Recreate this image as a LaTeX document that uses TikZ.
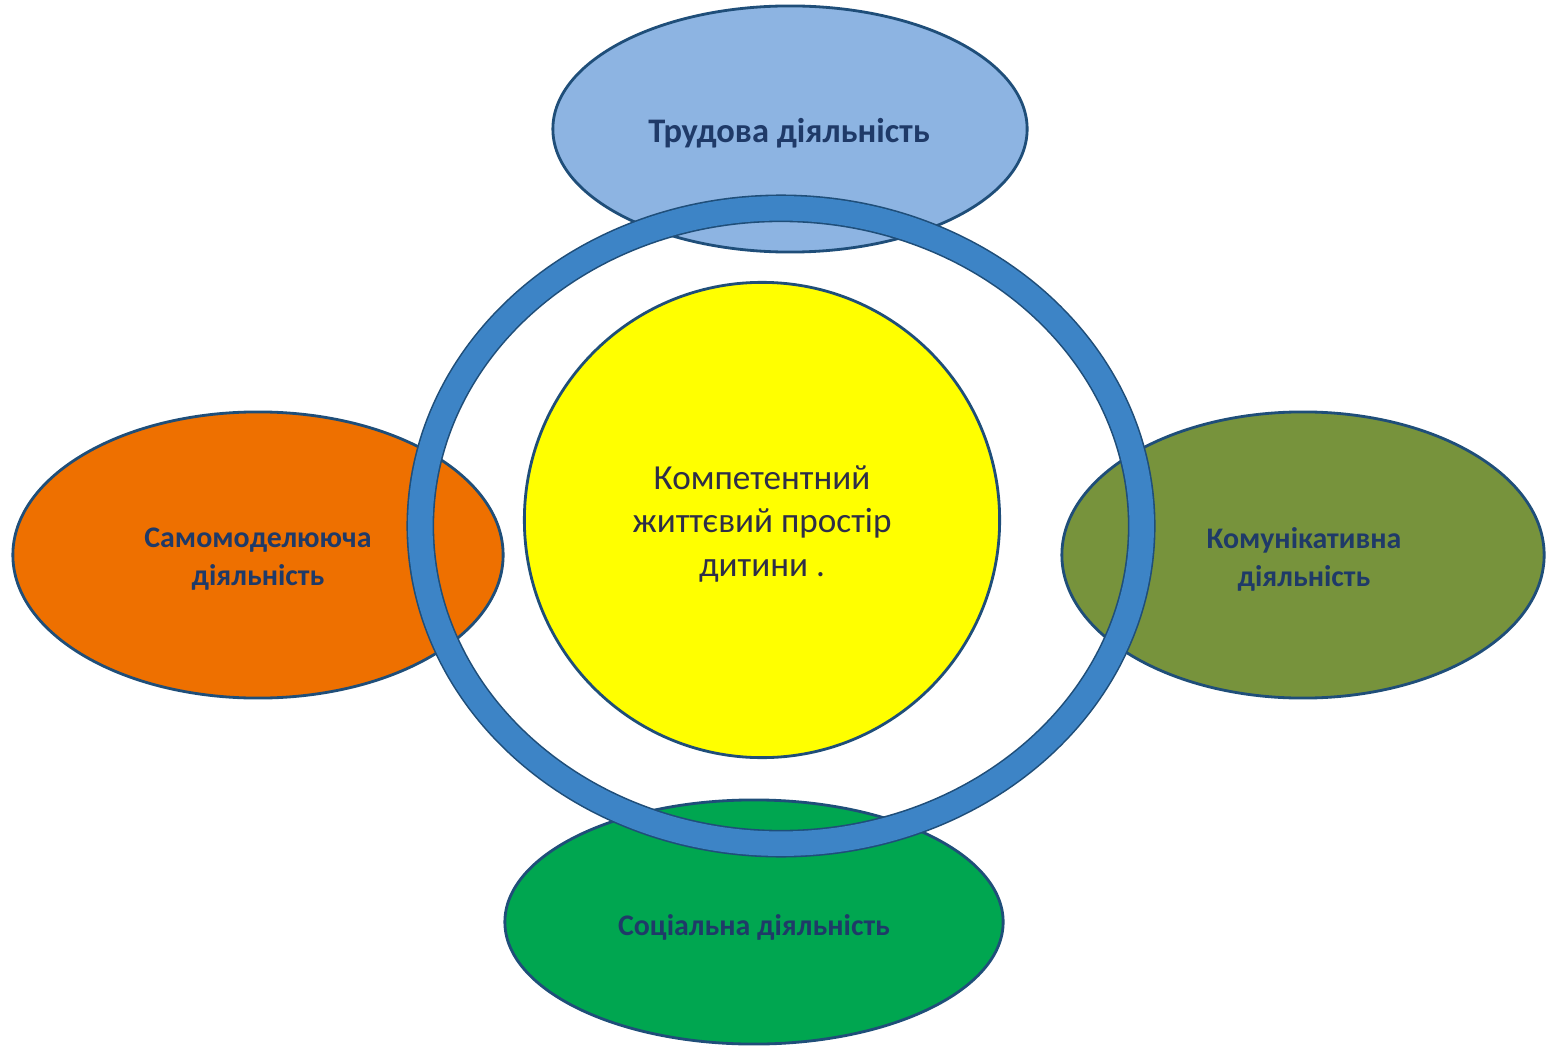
\documentclass[tikz,border=0pt]{standalone}
\usepackage{fontspec}
\setmainfont{Carlito}
\usetikzlibrary{shapes.geometric}
\definecolor{edgeblue}{HTML}{1F4E79}
\definecolor{ringblue}{HTML}{3D84C6}
\definecolor{topblue}{HTML}{8DB4E2}
\definecolor{orangeF}{HTML}{EE7000}
\definecolor{oliveF}{HTML}{77933C}
\definecolor{greenF}{HTML}{00A650}
\definecolor{yellowF}{HTML}{FFFF00}
\definecolor{labelblue}{HTML}{1F3A68}
\definecolor{centertext}{HTML}{2E2E48}
\tikzset{
  act/.style={ellipse, draw=edgeblue, line width=0.8pt, inner sep=0pt, outer sep=0pt},
  lbl/.style={font=\fontsize{8.5}{10.8}\selectfont\bfseries, text=labelblue, align=center},
  ringst/.style={ellipse, draw=edgeblue, line width=0.45pt, double=ringblue, double distance=0.245cm, inner sep=0pt, outer sep=0pt},
  core/.style={circle, draw=edgeblue, line width=0.8pt, fill=yellowF, inner sep=0pt, outer sep=0pt},
}
\begin{document}
\begin{tikzpicture}[x=0.01cm,y=-0.01cm]
\useasboundingbox (0,0) rectangle (1549,1049);
\fill[white] (0,0) rectangle (1549,1049);
% activity ellipses
\node[act, fill=topblue, minimum width=4.74cm, minimum height=2.46cm] (top) at (790,129) {};
\node[act, fill=orangeF, minimum width=4.90cm, minimum height=2.86cm] (left) at (258,555) {};
\node[act, fill=oliveF, minimum width=4.82cm, minimum height=2.86cm] (right) at (1303,555) {};
\node[act, fill=greenF, minimum width=4.98cm, minimum height=2.44cm] (bottom) at (754,922) {};
% core
\node[core, minimum size=4.75cm] (centre) at (762,520) {};
% ring
\node[ringst, minimum width=7.21cm, minimum height=6.35cm] (ring) at (781,526) {};
% labels
\node[lbl, font=\fontsize{9.8}{10.8}\selectfont\bfseries] (ttop) at (789,133) {Трудова діяльність};
\node[lbl] (tleft) at (258,559) {Самомоделююча\\діяльність};
\node[lbl] (tright) at (1304,559) {Комунікативна\\діяльність};
\node[lbl] (tbottom) at (754,927) {Соціальна діяльність};
\node[font=\fontsize{10}{12.4}\selectfont, text=centertext, align=center] (tcentre) at (762,524) {Компетентний\\життєвий простір\\дитини .};
\end{tikzpicture}
\end{document}
